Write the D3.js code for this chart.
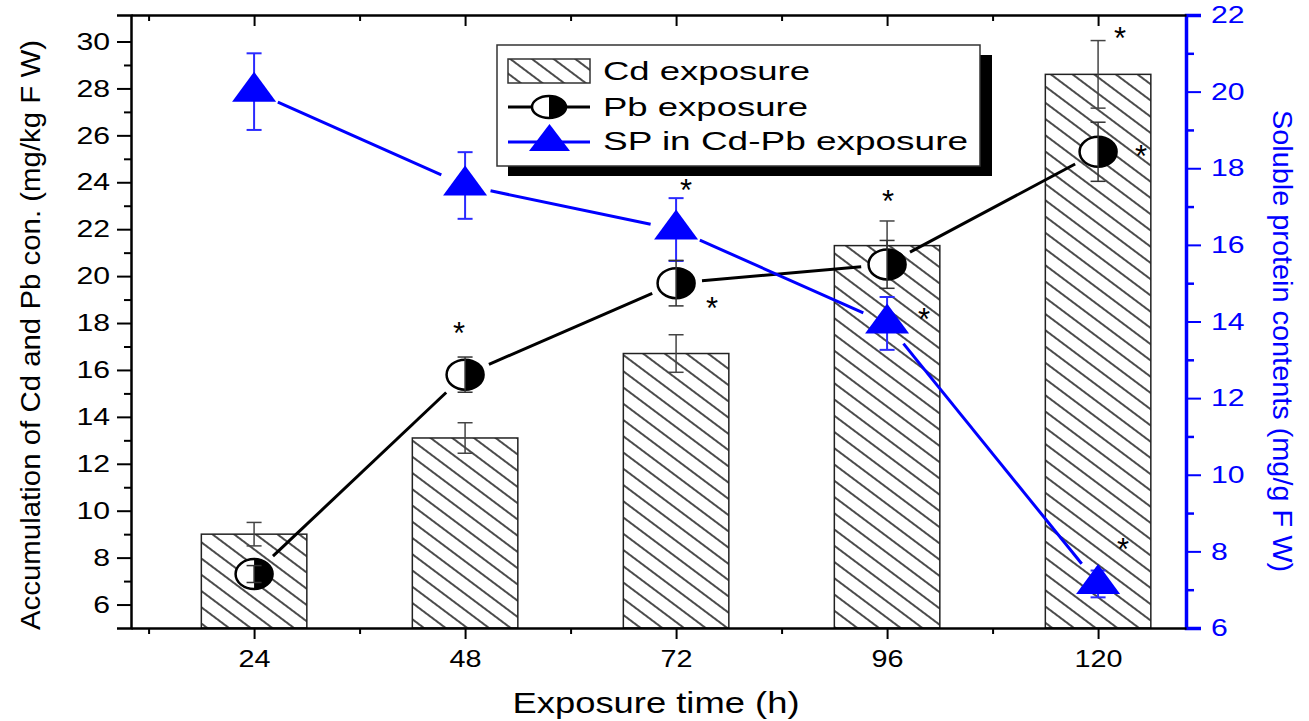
<!DOCTYPE html>
<meta charset="utf-8">
<style>
body { margin: 0; background: #fff; }
text { font-family: "Liberation Sans", Arial, sans-serif; }
</style>
<svg width="1309" height="721"></svg>
<script src="https://d3js.org/d3.v7.min.js"></script>
<script>

// exposure times (h)
var hours = [24, 48, 72, 96, 120];

// Cd accumulation (bars, left axis)
var cd    = [9.0, 13.1, 16.7, 21.3, 28.6];
var cdErr = [0.5, 0.65, 0.8, 1.05, 1.44];

// Pb accumulation (half filled circles, left axis)
var pb    = [7.3, 15.8, 19.7, 20.5, 25.3];
var pbErr = [0.36, 0.75, 0.97, 1.02, 1.26];

// soluble protein in Cd-Pb exposure (triangles, right axis)
var sp    = [20.0, 17.55, 16.4, 13.95, 7.15];
var spErr = [1.0, 0.87, 0.82, 0.69, 0.35];

var leftTicks  = [6, 8, 10, 12, 14, 16, 18, 20, 22, 24, 26, 28, 30];
var rightTicks = [6, 8, 10, 12, 14, 16, 18, 20, 22];
var xMinor     = [12, 36, 60, 84, 108];

// significance stars: which series / time
var stars = [
  {series: "pb", hour: 48},
  {series: "sp", hour: 72},
  {series: "pb", hour: 72},
  {series: "pb", hour: 96},
  {series: "sp", hour: 96},
  {series: "cd", hour: 120},
  {series: "pb", hour: 120},
  {series: "sp", hour: 120}
];
// where each star sits relative to its point (px)
var starOffset = {
  "pb48": [-6, -48], "sp72": [10, -46], "pb72": [36, 19], "pb96": [1, -69],
  "sp96": [37, -10], "cd120": [22, -42], "pb120": [43, -2], "sp120": [25, -41]
};

var svg = d3.select("svg");

var x  = d3.scaleLinear().domain([10, 130]).range([131, 1186]);
var yL = d3.scaleLinear().domain([5, 31.13]).range([628, 15]);
var yR = d3.scaleLinear().domain([6, 22]).range([628, 15]);

// hatch pattern for the bars
var defs = svg.append("defs");
defs.append("pattern")
    .attr("id", "hatch")
    .attr("patternUnits", "userSpaceOnUse")
    .attr("width", 10).attr("height", 13)
    .attr("patternTransform", "rotate(36.87)")
  .append("line")
    .attr("x1", 0).attr("x2", 10).attr("y1", 1).attr("y2", 1)
    .attr("stroke", "#000").attr("stroke-width", 1.4);

var g = svg.append("g");

// bars, 12 h wide
var barW = x(22) - x(10);
g.selectAll(".bar")
  .data(hours)
  .enter().append("rect")
    .attr("class", "bar")
    .attr("x", function(d) { return x(d) - barW / 2; })
    .attr("y", function(d, i) { return yL(cd[i]); })
    .attr("width", barW)
    .attr("height", function(d, i) { return yL(5) - yL(cd[i]); })
    .attr("fill", "url(#hatch)")
    .attr("stroke", "#222")
    .attr("stroke-width", 1.5);

function errorBars(vals, errs, scale, color, width) {
  var eg = g.append("g").attr("stroke", color).attr("stroke-width", width);
  hours.forEach(function(h, i) {
    var cx = x(h), y0 = scale(vals[i] - errs[i]), y1 = scale(vals[i] + errs[i]);
    eg.append("line").attr("x1", cx).attr("x2", cx).attr("y1", y0).attr("y2", y1);
    eg.append("line").attr("x1", cx - 7.5).attr("x2", cx + 7.5).attr("y1", y0).attr("y2", y0);
    eg.append("line").attr("x1", cx - 7.5).attr("x2", cx + 7.5).attr("y1", y1).attr("y2", y1);
  });
}

errorBars(cd, cdErr, yL, "#444", 1.5);

// connecting lines with a gap around each marker
function gappedLine(vals, scale, color) {
  var pts = hours.map(function(h, i) { return [x(h), scale(vals[i])]; });
  var gap = 26;
  for (var i = 0; i < pts.length - 1; i++) {
    var a = pts[i], b = pts[i + 1];
    var dx = b[0] - a[0], dy = b[1] - a[1], len = Math.sqrt(dx * dx + dy * dy);
    var ux = dx / len, uy = dy / len;
    g.append("path")
      .attr("d", d3.line()([[a[0] + ux * gap, a[1] + uy * gap], [b[0] - ux * gap, b[1] - uy * gap]]))
      .attr("stroke", color)
      .attr("stroke-width", 3)
      .attr("fill", "none");
  }
}

gappedLine(pb, yL, "#000");
gappedLine(sp, yR, "#0000ff");

// SP error bars below triangles
errorBars(sp, spErr, yR, "#2a2aff", 2);

function triPath(cx, cy, w, h) {
  return "M" + cx + "," + (cy - h * 2 / 3) +
         "L" + (cx + w / 2) + "," + (cy + h / 3) +
         "L" + (cx - w / 2) + "," + (cy + h / 3) + "Z";
}

g.selectAll(".tri")
  .data(hours)
  .enter().append("path")
    .attr("class", "tri")
    .attr("d", function(d, i) { return triPath(x(d), yR(sp[i]), 44, 30); })
    .attr("fill", "#0000ff");

function halfCircle(sel, cx, cy, rx, ry) {
  sel.append("ellipse")
    .attr("cx", cx).attr("cy", cy).attr("rx", rx).attr("ry", ry)
    .attr("fill", "#fff").attr("stroke", "#000").attr("stroke-width", 2.5);
  sel.append("path")
    .attr("d", "M" + cx + "," + (cy - ry) + " A" + rx + "," + ry + " 0 0 1 " + cx + "," + (cy + ry) + " Z")
    .attr("fill", "#000");
}

hours.forEach(function(h, i) {
  halfCircle(g, x(h), yL(pb[i]), 18.5, 15);
});

errorBars(pb, pbErr, yL, "#333", 1.5);

// stars
var seriesInfo = {cd: [cd, yL], pb: [pb, yL], sp: [sp, yR]};
g.selectAll(".star")
  .data(stars)
  .enter().append("text")
    .attr("class", "star")
    .attr("x", function(d) { return x(d.hour) + starOffset[d.series + d.hour][0]; })
    .attr("y", function(d) {
      var s = seriesInfo[d.series], i = hours.indexOf(d.hour);
      return s[1](s[0][i]) + starOffset[d.series + d.hour][1] + 17;
    })
    .attr("text-anchor", "middle")
    .attr("font-size", 31)
    .text("*");

// axes
function styleTicks(sel, color, perChar) {
  sel.selectAll("text")
    .attr("font-size", 24)
    .attr("fill", color)
    .attr("textLength", function() { return this.textContent.length * perChar; })
    .attr("lengthAdjust", "spacingAndGlyphs");
  sel.selectAll("line").attr("stroke", color).attr("stroke-width", 2);
}

var axL = svg.append("g")
    .attr("transform", "translate(131,0)")
    .call(d3.axisLeft(yL).tickValues(leftTicks).tickSize(14).tickPadding(7));
styleTicks(axL, "#000", 16.8);
axL.select(".domain").attr("stroke-width", 2.5);

svg.append("g")
    .attr("transform", "translate(131,0)")
    .call(d3.axisLeft(yL).tickValues(d3.range(7, 31, 2)).tickSize(7).tickFormat(""))
    .call(function(s) { s.select(".domain").remove(); s.selectAll("line").attr("stroke-width", 2); });

var axR = svg.append("g")
    .attr("transform", "translate(1186,0)")
    .call(d3.axisRight(yR).tickValues(rightTicks).tickSize(15).tickPadding(10));
styleTicks(axR, "#0000ff", 16.8);
axR.select(".domain").attr("stroke", "#0000ff").attr("stroke-width", 3.5);

svg.append("g")
    .attr("transform", "translate(1186,0)")
    .call(d3.axisRight(yR).tickValues(d3.range(7, 22, 2)).tickSize(8).tickFormat(""))
    .call(function(s) {
      s.select(".domain").remove();
      s.selectAll("line").attr("stroke", "#0000ff").attr("stroke-width", 2.5);
    });

var axB = svg.append("g")
    .attr("transform", "translate(0,628)")
    .call(d3.axisBottom(x).tickValues(hours).tickSize(11).tickPadding(11).tickSizeOuter(0));
styleTicks(axB, "#000", 16);
axB.select(".domain").attr("stroke-width", 2.5);

svg.append("g")
    .attr("transform", "translate(0,628)")
    .call(d3.axisBottom(x).tickValues(xMinor).tickSize(6).tickFormat(""))
    .call(function(s) { s.select(".domain").remove(); s.selectAll("line").attr("stroke-width", 2); });

// top frame with inward ticks
svg.append("g")
    .attr("transform", "translate(0,15)")
    .call(d3.axisTop(x).tickValues(hours).tickSize(-11).tickFormat("").tickSizeOuter(0))
    .call(function(s) { s.select(".domain").attr("stroke-width", 2.5); s.selectAll("line").attr("stroke-width", 2); });

svg.append("g")
    .attr("transform", "translate(0,15)")
    .call(d3.axisTop(x).tickValues(xMinor).tickSize(-6).tickFormat(""))
    .call(function(s) { s.select(".domain").remove(); s.selectAll("line").attr("stroke-width", 2); });

// axis titles
svg.append("text")
    .attr("transform", "translate(40,335) rotate(-90)")
    .attr("text-anchor", "middle")
    .attr("font-size", 28)
    .attr("textLength", 590)
    .attr("lengthAdjust", "spacingAndGlyphs")
    .text("Accumulation of Cd and Pb con. (mg/kg F W)");

svg.append("text")
    .attr("transform", "translate(1273,341) rotate(90)")
    .attr("text-anchor", "middle")
    .attr("font-size", 28)
    .attr("fill", "#0000ff")
    .attr("textLength", 462)
    .attr("lengthAdjust", "spacingAndGlyphs")
    .text("Soluble protein contents (mg/g F W)");

svg.append("text")
    .attr("x", 656).attr("y", 713)
    .attr("text-anchor", "middle")
    .attr("font-size", 30)
    .attr("textLength", 287)
    .attr("lengthAdjust", "spacingAndGlyphs")
    .text("Exposure time (h)");

// legend
var lg = svg.append("g");
lg.append("rect").attr("x", 508).attr("y", 55).attr("width", 484).attr("height", 121).attr("fill", "#000");
lg.append("rect").attr("x", 497).attr("y", 45).attr("width", 483).attr("height", 121)
    .attr("fill", "#fff").attr("stroke", "#333").attr("stroke-width", 1.5);

lg.append("rect").attr("x", 508).attr("y", 59).attr("width", 82).attr("height", 24)
    .attr("fill", "url(#hatch)").attr("stroke", "#333").attr("stroke-width", 1.5);

lg.append("line").attr("x1", 508).attr("x2", 590).attr("y1", 107).attr("y2", 107)
    .attr("stroke", "#000").attr("stroke-width", 3);
halfCircle(lg, 549, 107, 17, 11);

lg.append("line").attr("x1", 508).attr("x2", 590).attr("y1", 142).attr("y2", 142)
    .attr("stroke", "#0000ff").attr("stroke-width", 3);
lg.append("path").attr("d", triPath(549.5, 142, 41, 27)).attr("fill", "#0000ff");

var legendLabels = ["Cd exposure", "Pb exposure", "SP in Cd-Pb exposure"];
var legendWidths = [207, 205, 365];
var legendBase = [80, 116, 150];
lg.selectAll(".lt")
  .data(legendLabels)
  .enter().append("text")
    .attr("class", "lt")
    .attr("x", 603)
    .attr("y", function(d, i) { return legendBase[i]; })
    .attr("font-size", 26)
    .attr("textLength", function(d, i) { return legendWidths[i]; })
    .attr("lengthAdjust", "spacingAndGlyphs")
    .text(function(d) { return d; });

</script>
